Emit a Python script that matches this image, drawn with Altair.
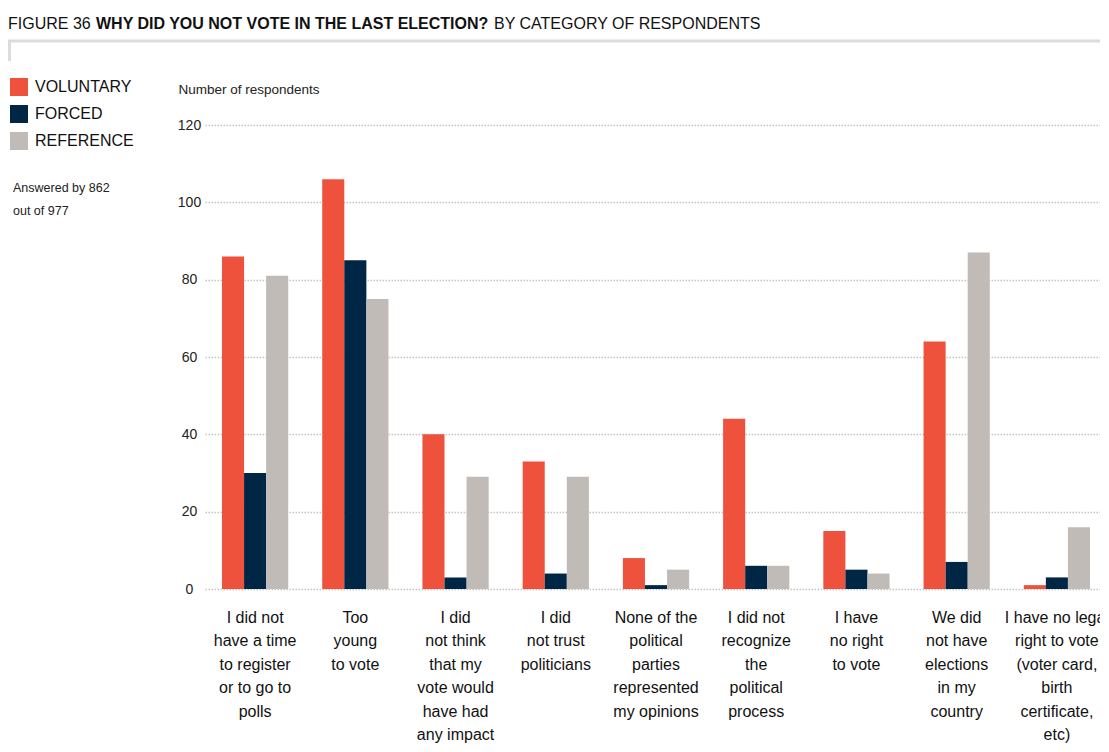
import altair as alt
import pandas as pd

FONT = "Liberation Sans, Arial, sans-serif"

categories = [
    "I did not\nhave a time\nto register\nor to go to\npolls",
    "Too\nyoung\nto vote",
    "I did\nnot think\nthat my\nvote would\nhave had\nany impact",
    "I did\nnot trust\npoliticians",
    "None of the\npolitical\nparties\nrepresented\nmy opinions",
    "I did not\nrecognize\nthe\npolitical\nprocess",
    "I have\nno right\nto vote",
    "We did\nnot have\nelections\nin my\ncountry",
    "I have no legal\nright to vote\n(voter card,\nbirth\ncertificate,\netc)",
]
series = ["VOLUNTARY", "FORCED", "REFERENCE"]
colors = ["#EE523D", "#002645", "#C0BBB7"]

voluntary = [86, 106, 40, 33, 8, 44, 15, 64, 1]
forced = [30, 85, 3, 4, 1, 6, 5, 7, 3]
reference = [81, 75, 29, 29, 5, 6, 4, 87, 16]
y_ticks = [0, 20, 40, 60, 80, 100, 120]

rows = []
for i, c in enumerate(categories):
    for s, vals in zip(series, [voluntary, forced, reference]):
        rows.append({"category": c, "series": s, "value": vals[i]})
df = pd.DataFrame(rows)

bars = alt.Chart(df).mark_bar().encode(
    x=alt.X(
        "category:N",
        sort=categories,
        scale=alt.Scale(range=[-5, 897], paddingInner=0, paddingOuter=0),
        axis=alt.Axis(
            title=None,
            labelExpr="split(datum.label, '\\n')",
            labelAngle=0,
            labelFontSize=16,
            labelLineHeight=23.5,
            labelPadding=20,
            labelBaseline="top",
            labelAlign="center",
            domain=False,
            ticks=False,
            tickSize=0,
            labelColor="#111111",
            labelFont=FONT,
            labelLimit=0,
        ),
    ),
    xOffset=alt.XOffset(
        "series:N", sort=series, scale=alt.Scale(paddingOuter=0.77, paddingInner=0)
    ),
    y=alt.Y(
        "value:Q",
        scale=alt.Scale(domain=[0, 120], nice=False),
        axis=alt.Axis(
            values=y_ticks,
            grid=True,
            gridDash=[1.5, 1.5],
            gridColor="#c4c4c4",
            gridWidth=1.3,
            domain=False,
            ticks=False,
            tickSize=0,
            labelAlign="center",
            labelPadding=21,
            labelFontSize=14,
            labelFont=FONT,
            labelColor="#222222",
            title="Number of respondents",
            titleAngle=0,
            titleAlign="left",
            titleX=-32,
            titleY=-36,
            titleBaseline="middle",
            titleFontWeight="normal",
            titleFontSize=13.5,
            titleFont=FONT,
            titleColor="#222222",
        ),
    ),
    color=alt.Color(
        "series:N",
        sort=series,
        scale=alt.Scale(domain=series, range=colors),
        legend=alt.Legend(
            orient="none",
            legendX=-200,
            legendY=-47,
            title=None,
            symbolType="square",
            symbolSize=324,
            symbolStrokeWidth=0,
            symbolOpacity=1,
            labelFontSize=16,
            labelFont=FONT,
            labelColor="#111111",
            labelOffset=7,
            rowPadding=9,
        ),
    ),
)

one = pd.DataFrame({"a": [0]})

frame_h = alt.Chart(one).mark_rule(color="#dcdcdc", strokeWidth=3).encode(
    x=alt.value(-202), x2=alt.value(900), y=alt.value(-84)
)
frame_v = alt.Chart(one).mark_rule(color="#dcdcdc", strokeWidth=3).encode(
    x=alt.value(-200.5), y=alt.value(-84), y2=alt.value(-64)
)

t1 = alt.Chart(pd.DataFrame({"t": ["FIGURE 36"]})).mark_text(
    align="left", baseline="alphabetic", fontSize=16, font=FONT, color="#111111"
).encode(x=alt.value(-202), y=alt.value(-96.5), text="t:N")
t2 = alt.Chart(pd.DataFrame({"t": ["WHY DID YOU NOT VOTE IN THE LAST ELECTION?"]})).mark_text(
    align="left", baseline="alphabetic", fontSize=16, font=FONT, fontWeight="bold", color="#111111"
).encode(x=alt.value(-114), y=alt.value(-96.5), text="t:N")
t3 = alt.Chart(pd.DataFrame({"t": ["BY CATEGORY OF RESPONDENTS"]})).mark_text(
    align="left", baseline="alphabetic", fontSize=16, font=FONT, color="#111111"
).encode(x=alt.value(284), y=alt.value(-96.5), text="t:N")

note = alt.Chart(pd.DataFrame({"t": ["Answered by 862\nout of 977"]})).mark_text(
    align="left", baseline="middle", fontSize=12.5, font=FONT, color="#222222",
    lineBreak="\n", lineHeight=23,
).encode(x=alt.value(-197), y=alt.value(63), text="t:N")

chart = alt.layer(frame_h, frame_v, bars, t1, t2, t3, note).properties(
    width=890,
    height=464,
    padding={"left": 202, "top": 117, "right": 0, "bottom": 155},
    autosize="none",
).configure_view(stroke=None)

chart.save("out.html", embed_options={"renderer": "svg", "actions": False})
